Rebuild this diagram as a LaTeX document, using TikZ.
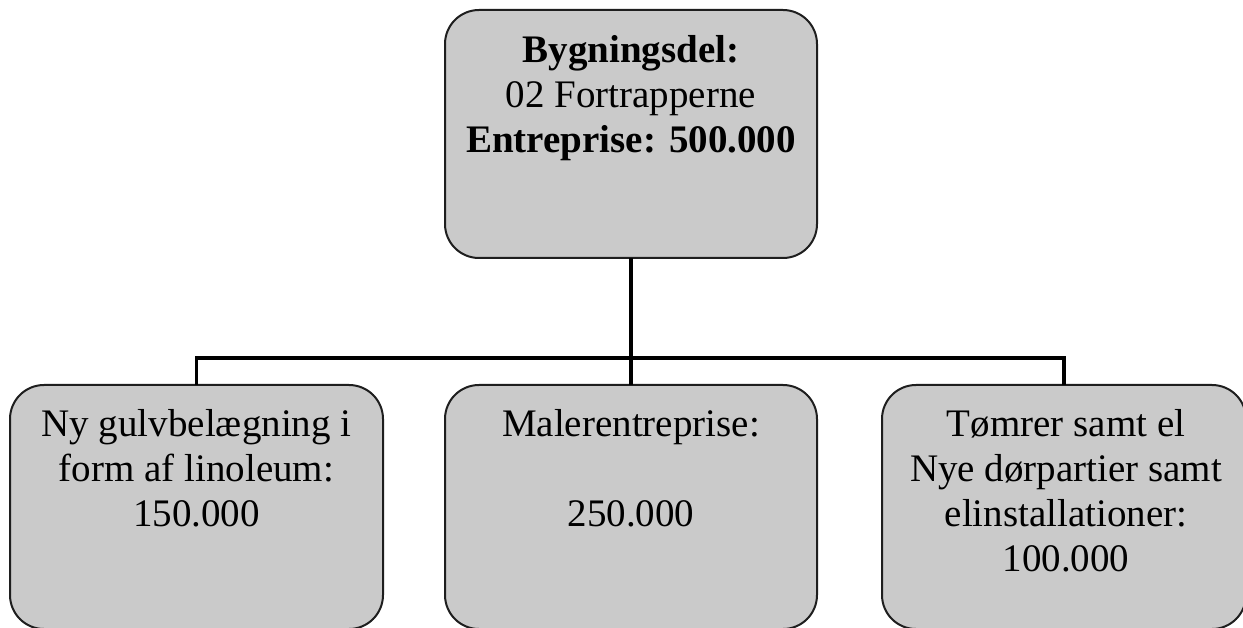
\documentclass[tikz,border=0pt]{standalone}
\usepackage{fontspec}
\setmainfont{Liberation Serif}
\definecolor{boxfill}{RGB}{202,202,202}
\definecolor{boxline}{RGB}{30,30,30}
\tikzset{
  box/.style={draw=boxline, fill=boxfill, line width=2pt, rounded corners=34pt,
    inner sep=0pt, outer sep=0pt, anchor=north west},
  label/.style={anchor=base, inner sep=0pt, font=\fontsize{39}{45}\selectfont},
  conn/.style={draw=black, line width=3.5pt}
}
\begin{document}
\begin{tikzpicture}[x=1pt,y=-1pt]
  \useasboundingbox (0,0) rectangle (1243,628);
  \clip (0,0) rectangle (1243,628);
  \fill[white] (0,0) rectangle (1243,628);

  % boxes
  \node[box, minimum width=372pt, minimum height=248pt] (top) at (445,10) {};
  \node[box, minimum width=373pt, minimum height=244pt] (left) at (10,385) {};
  \node[box, minimum width=372pt, minimum height=244pt] (mid) at (445,385) {};
  \node[box, minimum width=364pt, minimum height=244pt] (right) at (882,385) {};

  % tree connectors
  \coordinate (hub) at (top.south |- 0,358);
  \draw[conn] (top.south) -- (hub);
  \draw[conn] (mid.north) -- (hub);
  \draw[conn] (left.north) |- (hub) -| (right.north);

  % texts
  \node[label] (ttop) at ([yshift=-53pt]top.north)
    {\begin{tabular}[t]{@{}c@{}}\textbf{Bygningsdel:}\\02 Fortrapperne\\\textbf{Entreprise: 500.000}\end{tabular}};
  \node[label] (tleft) at ([yshift=-51pt]left.north)
    {\begin{tabular}[t]{@{}c@{}}Ny gulvbelægning i\\form af linoleum:\\150.000\end{tabular}};
  \node[label] (tmid) at ([yshift=-51pt]mid.north)
    {\begin{tabular}[t]{@{}c@{}}Malerentreprise:\\ \\250.000\end{tabular}};
  \node[label] (tright) at ([yshift=-51pt,xshift=2pt]right.north)
    {\begin{tabular}[t]{@{}c@{}}Tømrer samt el\\Nye dørpartier samt\\elinstallationer:\\100.000\end{tabular}};
\end{tikzpicture}
\end{document}
